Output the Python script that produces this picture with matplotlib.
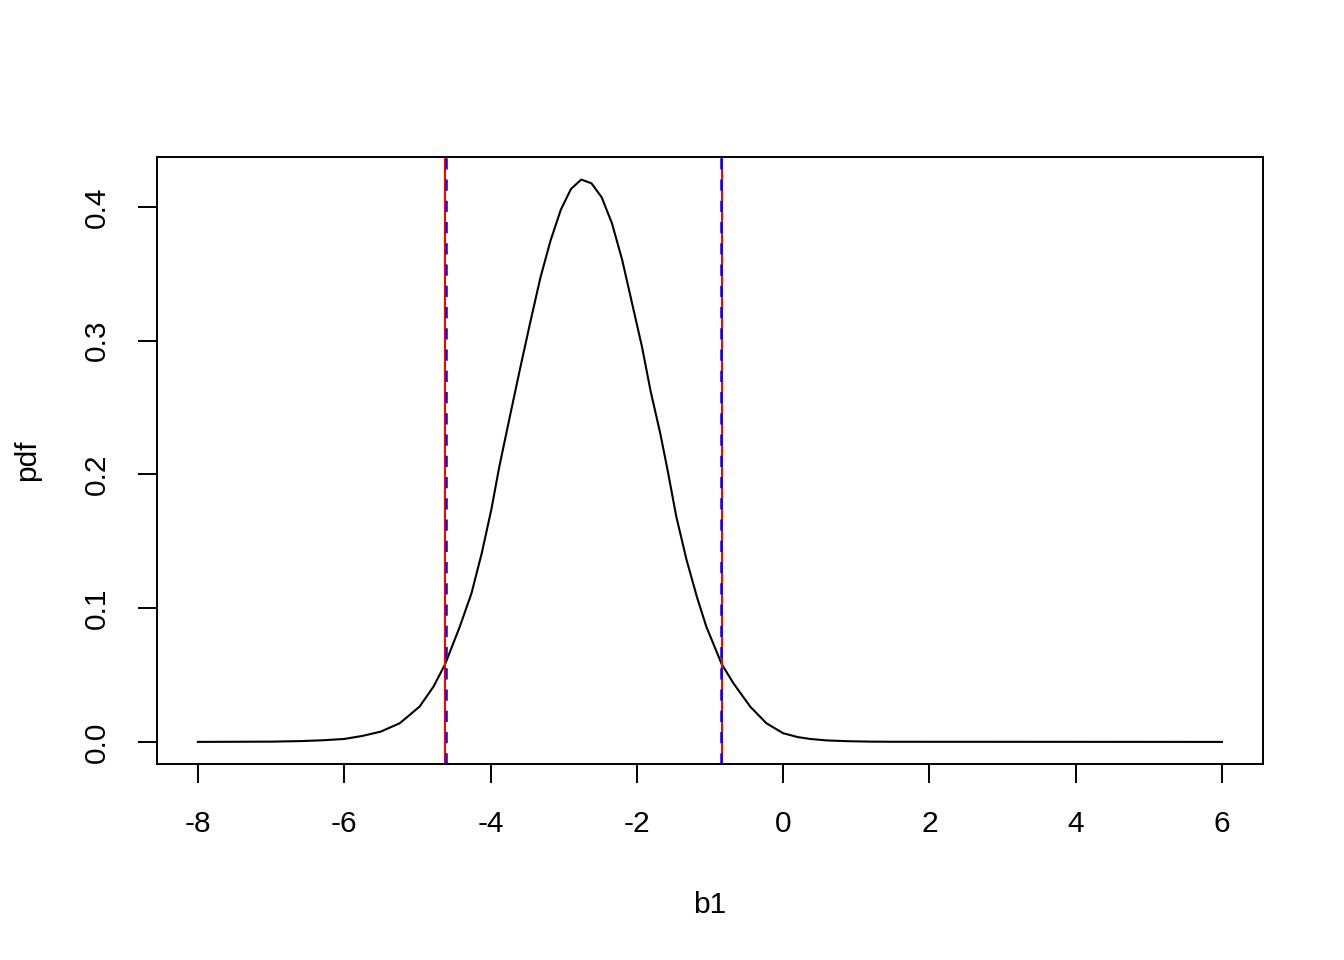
import matplotlib
matplotlib.use("Agg")
import matplotlib.pyplot as plt

# density curve
b1 = [-8.0, -7.0, -6.6, -6.3, -6.0, -5.75, -5.5, -5.24, -4.97, -4.78, -4.62, -4.42,
      -4.26, -4.12, -3.99, -3.88, -3.74, -3.60, -3.46, -3.32, -3.18, -3.04,
      -2.90, -2.76, -2.62, -2.48, -2.34, -2.20, -2.07, -1.93, -1.81, -1.68,
      -1.58, -1.46, -1.32, -1.18, -1.05, -0.84, -0.68, -0.45, -0.23, 0.0,
      0.2, 0.37, 0.6, 0.9, 1.2, 1.5, 6.0]
pdf = [0.0, 0.0002, 0.0006, 0.0012, 0.0022, 0.0045, 0.0077, 0.014, 0.0264, 0.0413, 0.0582, 0.0862,
       0.1112, 0.1411, 0.1735, 0.2058, 0.2422, 0.2781, 0.3130, 0.3467, 0.3748, 0.3978,
       0.4135, 0.4205, 0.4177, 0.4072, 0.3878, 0.3604, 0.3292, 0.2956, 0.2619, 0.2308,
       0.2034, 0.1684, 0.1361, 0.1087, 0.0862, 0.0582, 0.0439, 0.0264, 0.014, 0.0065,
       0.0036, 0.0022, 0.0011, 0.0005, 0.0002, 0.0001, 0.0]

# interval bounds (two methods, nearly identical)
ci_red = [-4.623, -0.832]
ci_blue = [-4.609, -0.845]

xticks = [-8, -6, -4, -2, 0, 2, 4, 6]
yticks = [0.0, 0.1, 0.2, 0.3, 0.4]

plt.rcParams['font.family'] = ['Liberation Sans', 'DejaVu Sans']

fig = plt.figure(figsize=(13.44, 9.6), dpi=100)
ax = fig.add_axes([0.1168, 0.2042, 0.8229, 0.6323])

ax.plot(b1, pdf, color="black", lw=1.5)
for v in ci_red:
    ax.axvline(v, color="#FF0000", lw=1.5)
for v in ci_blue:
    ax.axvline(v, color="#0000FF", lw=1.8, linestyle=(0, (4.5, 4)))

ax.set_xlim(-8.56, 6.56)
ax.set_ylim(-0.0165, 0.4374)
ax.set_xticks(xticks)
ax.set_xticklabels([str(t) for t in xticks])
ax.set_yticks(yticks)
ax.set_yticklabels([f"{t:.1f}" for t in yticks], rotation=90, va="center")

ax.tick_params(axis="both", direction="out", length=14, width=1.4,
               labelsize=21.5, pad=19)
for s in ax.spines.values():
    s.set_linewidth(1.4)

ax.set_xlabel("b1", fontsize=21.5, labelpad=38)
ax.set_ylabel("pdf", fontsize=21.5, labelpad=30)

fig.savefig("out.png", dpi=100)
